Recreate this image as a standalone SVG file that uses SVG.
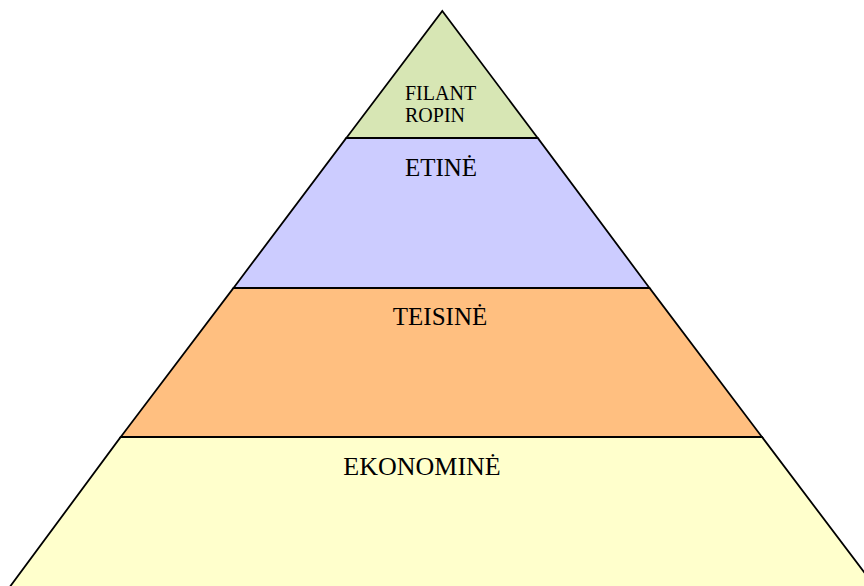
<svg xmlns="http://www.w3.org/2000/svg" width="864" height="586" viewBox="0 0 864 586">
  <style>
    .layer { stroke: #000; stroke-width: 1.8; stroke-linejoin: miter; }
    .lbl { font-family: "Liberation Serif", "Times New Roman", serif; fill: #000; }
  </style>
  <rect width="864" height="586" fill="#fff"/>
  <g id="ekonomine">
    <polygon class="layer" points="120.7,437 762,437 876,588 9,588" fill="#ffffcc"/>
    <text class="lbl" x="422" y="475" font-size="26" text-anchor="middle">EKONOMINĖ</text>
  </g>
  <g id="teisine">
    <polygon class="layer" points="233.5,288 649.5,288 762,437 120.7,437" fill="#ffbf80"/>
    <text class="lbl" x="440" y="325" font-size="25" text-anchor="middle">TEISINĖ</text>
  </g>
  <g id="etine">
    <polygon class="layer" points="346.3,138 537.7,138 649.5,288 233.5,288" fill="#ccccff"/>
    <text class="lbl" x="441" y="176" font-size="25" text-anchor="middle">ETINĖ</text>
  </g>
  <g id="filantropine">
    <polygon class="layer" points="442.3,11 537.7,138 346.3,138" fill="#d7e6b4"/>
    <text class="lbl" x="405" y="100" font-size="20">FILANT</text>
    <text class="lbl" x="405" y="122" font-size="20">ROPIN</text>
  </g>
</svg>
